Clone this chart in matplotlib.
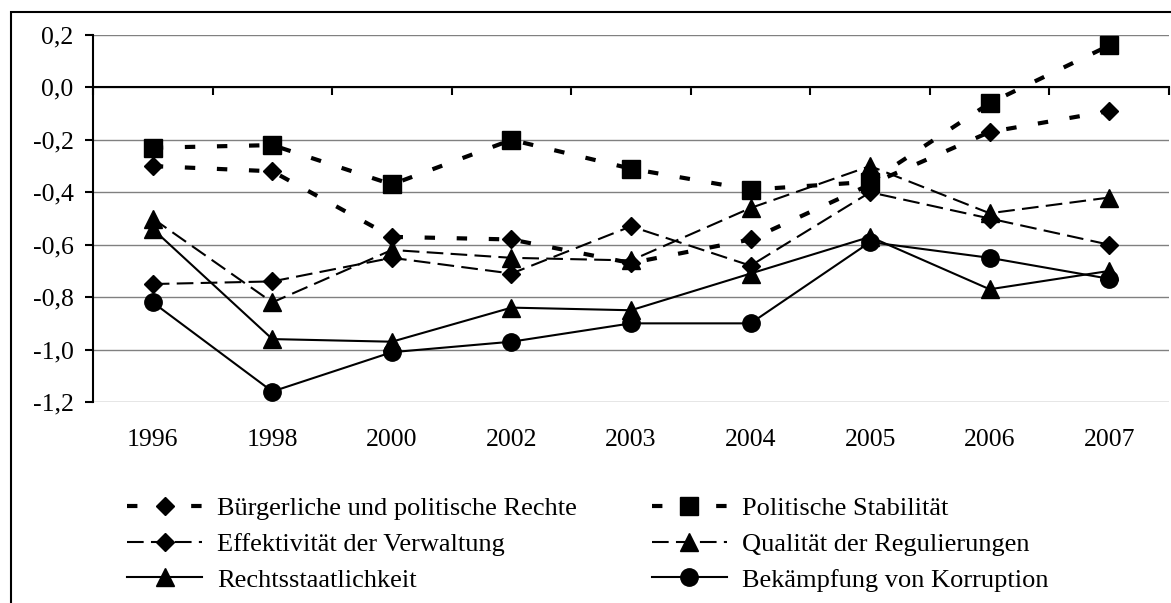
# Governance indicators 1996-2007 (line chart, black & white)

import numpy as np
import matplotlib.pyplot as plt
from matplotlib.patches import Rectangle
from matplotlib.ticker import FuncFormatter

plt.rcParams['font.family'] = ['Liberation Serif', 'DejaVu Serif']

# %%
# data
years = ['1996', '1998', '2000', '2002', '2003', '2004', '2005', '2006', '2007']

buergerliche = [-0.30, -0.32, -0.57, -0.58, -0.67, -0.58, -0.37, -0.17, -0.09]
politische = [-0.23, -0.22, -0.37, -0.20, -0.31, -0.39, -0.36, -0.06, 0.16]
effektivitaet = [-0.75, -0.74, -0.65, -0.71, -0.53, -0.68, -0.40, -0.50, -0.60]
qualitaet = [-0.50, -0.82, -0.62, -0.65, -0.66, -0.46, -0.30, -0.48, -0.42]
rechtsstaat = [-0.54, -0.96, -0.97, -0.84, -0.85, -0.71, -0.57, -0.77, -0.70]
korruption = [-0.82, -1.16, -1.01, -0.97, -0.90, -0.90, -0.59, -0.65, -0.73]

labels = ['Bürgerliche und politische Rechte', 'Politische Stabilität',
          'Effektivität der Verwaltung', 'Qualität der Regulierungen',
          'Rechtsstaatlichkeit', 'Bekämpfung von Korruption']

yticks = [0.2, 0.0, -0.2, -0.4, -0.6, -0.8, -1.0, -1.2]

# %%
fig = plt.figure(figsize=(11.71, 6.03), dpi=100)
ax = fig.add_axes([93 / 1171, 1 - 402 / 603, 1076 / 1171, 367 / 603])

x = np.arange(len(years))
dots = (0, (2.5, 5.2))
dash = (0, (8, 3.5))

l1, = ax.plot(x, buergerliche, color='black', lw=3, linestyle=dots,
              marker='D', ms=9, label=labels[0])
l2, = ax.plot(x, politische, color='black', lw=3, linestyle=dots,
              marker='s', ms=12.5, label=labels[1])
l3, = ax.plot(x, effektivitaet, color='black', lw=1.5, linestyle=dash,
              marker='D', ms=9, label=labels[2])
l4, = ax.plot(x, qualitaet, color='black', lw=1.5, linestyle=dash,
              marker='^', ms=12.5, label=labels[3])
l5, = ax.plot(x, rechtsstaat, color='black', lw=1.5, linestyle='-',
              marker='^', ms=12.5, label=labels[4])
l6, = ax.plot(x, korruption, color='black', lw=1.5, linestyle='-',
              marker='o', ms=12.5, label=labels[5])

# axes styling like the old office chart
ax.set_xlim(-0.5, len(years) - 0.5)
ax.set_ylim(-1.2, 0.2)
ax.set_yticks(yticks)
ax.yaxis.set_major_formatter(FuncFormatter(lambda v, p: f'{v:.1f}'.replace('.', ',')))
ax.grid(axis='y', color='#808080', lw=1)
ax.set_axisbelow(True)

ax.spines['top'].set_visible(False)
ax.spines['right'].set_visible(False)
ax.spines['left'].set_linewidth(1.5)
ax.spines['bottom'].set_linewidth(1.5)
ax.spines['bottom'].set_position(('data', 0))

ax.set_xticks(np.arange(-0.5, len(years), 1.0))
ax.set_xticklabels([])
ax.tick_params(axis='x', direction='out', length=6, width=1.5)
ax.tick_params(axis='y', direction='out', length=6, width=1.5, pad=8, labelsize=18.5)

# year labels sit under the plot area, not at the zero line
for i, yr in enumerate(years):
    ax.text(i, -0.104, yr, transform=ax.get_xaxis_transform(),
            ha='center', va='center', fontsize=18.5)

fig.legend(handles=[l1, l3, l5, l2, l4, l6], ncol=2, frameon=False,
           loc='upper left', bbox_to_anchor=(127 / 1171, 1 - 497 / 603),
           fontsize=19, handlelength=2.85, handletextpad=0.55,
           columnspacing=2.85, labelspacing=0.46, borderpad=0, borderaxespad=0)

# outer chart frame (runs off the right and bottom edge)
fig.patches.append(Rectangle((11 / 1171, -0.05), 1.2, 1 - 12 / 603 + 0.05,
                             transform=fig.transFigure, fill=False,
                             edgecolor='black', lw=1.5))

fig.savefig('out.png', dpi=100)
